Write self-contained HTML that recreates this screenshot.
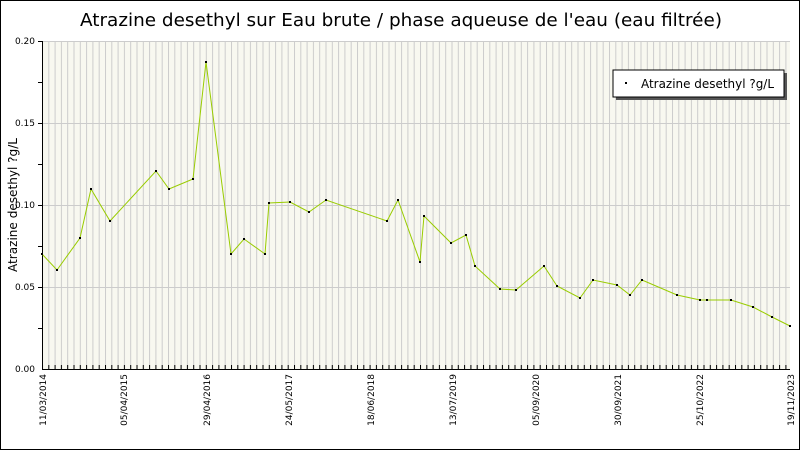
<!DOCTYPE html>
<html><head><meta charset="utf-8"><style>
html,body{margin:0;padding:0;background:#fff}
svg{display:block;font-family:"DejaVu Sans","Liberation Sans",sans-serif}
</style></head><body>
<svg width="800" height="450" viewBox="0 0 800 450" xmlns="http://www.w3.org/2000/svg">
<defs>
<pattern id="vg" x="42" y="0" width="6.3" height="450" patternUnits="userSpaceOnUse">
<line x1="0.5" y1="0" x2="0.5" y2="450" stroke="#cccccc" stroke-width="1"/>
</pattern>
<pattern id="tk" x="42" y="0" width="6.3" height="450" patternUnits="userSpaceOnUse">
<line x1="0.5" y1="0" x2="0.5" y2="450" stroke="#000" stroke-width="1"/>
</pattern>
<marker id="m" markerWidth="3" markerHeight="3" refX="1.5" refY="1.5" markerUnits="userSpaceOnUse">
<rect x="0.5" y="0.5" width="2" height="2" fill="#000"/>
</marker>
</defs>
<rect x="0.5" y="0.5" width="799" height="449" fill="#fff" stroke="#000"/>
<text x="401" y="26" font-size="18" text-anchor="middle" textLength="642" lengthAdjust="spacingAndGlyphs" fill="#000">Atrazine desethyl sur Eau brute / phase aqueuse de l'eau (eau filtrée)</text>
<rect x="42" y="41" width="748" height="328" fill="#f8f8f0"/>
<rect x="43" y="41" width="747" height="328" fill="url(#vg)"/>
<g stroke="#cccccc" stroke-width="1">
<line x1="42" y1="41.5" x2="790" y2="41.5"/>
<line x1="42" y1="123.5" x2="790" y2="123.5"/>
<line x1="42" y1="205.5" x2="790" y2="205.5"/>
<line x1="42" y1="287.5" x2="790" y2="287.5"/>
</g>
<rect x="43" y="365" width="747" height="4" fill="url(#tk)"/>
<g stroke="#000" stroke-width="1">
<line x1="42.5" y1="41" x2="42.5" y2="369"/>
<line x1="42" y1="369.5" x2="790" y2="369.5"/>
<line x1="38" y1="41.5" x2="42" y2="41.5"/>
<line x1="38" y1="82.5" x2="42" y2="82.5"/>
<line x1="38" y1="123.5" x2="42" y2="123.5"/>
<line x1="38" y1="164.5" x2="42" y2="164.5"/>
<line x1="38" y1="205.5" x2="42" y2="205.5"/>
<line x1="38" y1="246.5" x2="42" y2="246.5"/>
<line x1="38" y1="287.5" x2="42" y2="287.5"/>
<line x1="38" y1="328.5" x2="42" y2="328.5"/>
</g>
<g font-size="9" fill="#000" text-anchor="end">
<text x="35" y="44">0.20</text><text x="35" y="126">0.15</text><text x="35" y="208">0.10</text><text x="35" y="290">0.05</text><text x="35" y="372">0.00</text>
</g>
<text transform="translate(17,205) rotate(-90)" font-size="12" text-anchor="middle" textLength="134" lengthAdjust="spacingAndGlyphs">Atrazine desethyl ?g/L</text>
<g font-size="9" text-anchor="end">
<text transform="translate(46,374) rotate(-90)">11/03/2014</text>
<text transform="translate(127,374) rotate(-90)">05/04/2015</text>
<text transform="translate(210,374) rotate(-90)">29/04/2016</text>
<text transform="translate(292,374) rotate(-90)">24/05/2017</text>
<text transform="translate(374,374) rotate(-90)">18/06/2018</text>
<text transform="translate(456,374) rotate(-90)">13/07/2019</text>
<text transform="translate(539,374) rotate(-90)">05/09/2020</text>
<text transform="translate(621,374) rotate(-90)">30/09/2021</text>
<text transform="translate(703,374) rotate(-90)">25/10/2022</text>
<text transform="translate(794,374) rotate(-90)">19/11/2023</text>
</g>
<polyline fill="none" stroke="#99cc00" stroke-width="1" marker-start="url(#m)" marker-mid="url(#m)" marker-end="url(#m)" points="42,254 57,270 80,238 91,189 110,221 156,171 169,189 193,179 206,62 231,254 244,239 265,254 269,203 290,202 309,212 326,200 387,221 398,200 420,262 424,216 451,243 466,235 475,266 500,289 516,290 544,266 557,286 580,298 593,280 617,285 630,295 642,280 677,295 700,300 707,300 731,300 753,307 772,317 790,326"/>
<rect x="616" y="73" width="171" height="27" fill="#555"/>
<rect x="613" y="70" width="171" height="27" fill="#fff" stroke="#000"/>
<rect x="625" y="82" width="2" height="2" fill="#000"/>
<text x="641" y="88" font-size="12" textLength="133" lengthAdjust="spacingAndGlyphs">Atrazine desethyl ?g/L</text>
</svg>
</body></html>
